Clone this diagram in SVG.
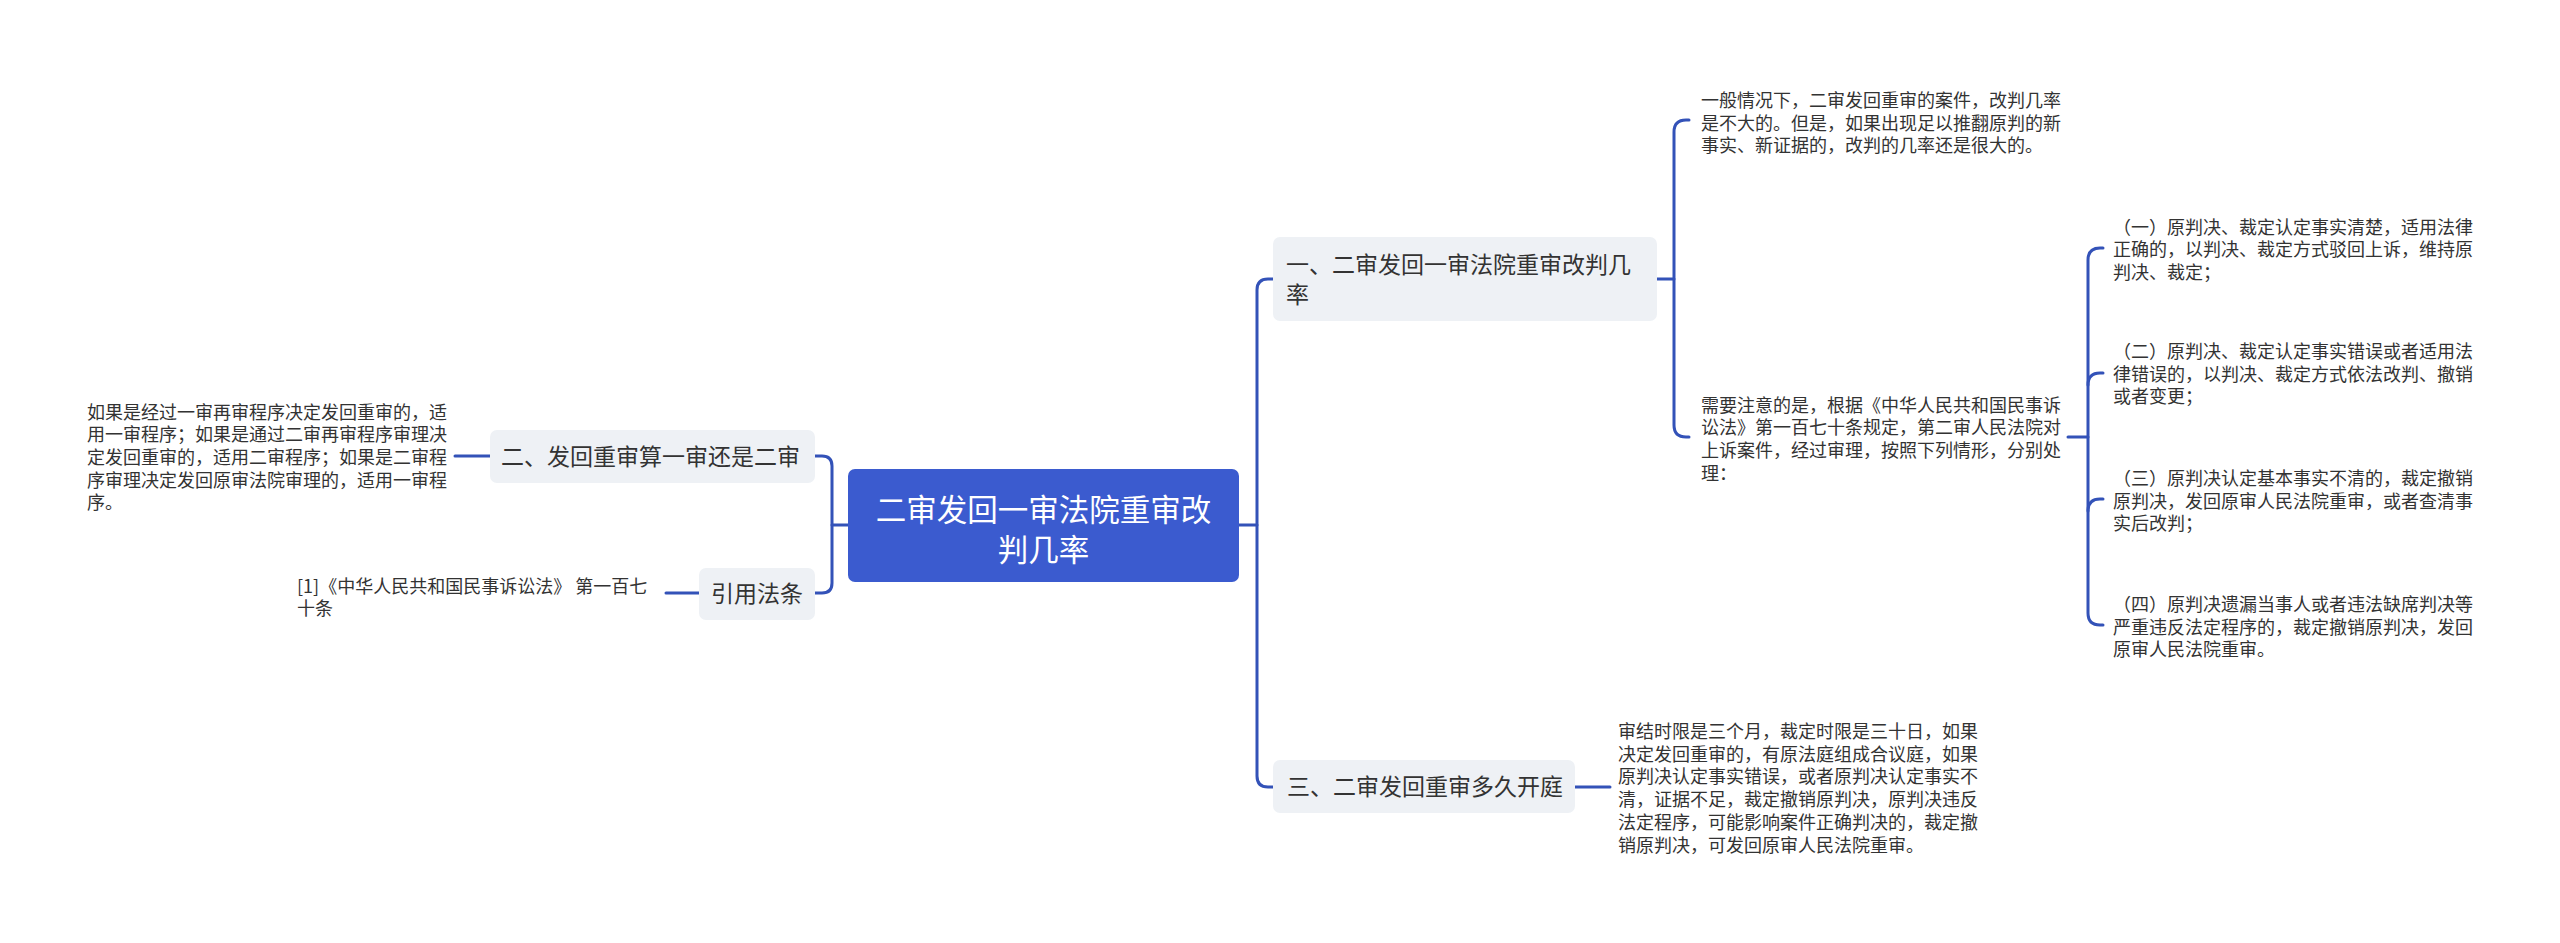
<svg xmlns="http://www.w3.org/2000/svg" width="2560" height="943" viewBox="0 0 2560 943">
<style>
.bg{fill:#ffffff}
.ln{fill:none;stroke:#3352b8;stroke-width:3;stroke-linecap:round}
.root{fill:#3b5bcf}
.nd{fill:#eef1f5}
text{font-family:"Noto Sans CJK SC","Noto Sans",sans-serif;fill:#333333}
.rt{font-size:30.5px;fill:#ffffff;text-anchor:middle}
.nt{font-size:23px}
.tx{font-size:18px}
</style>
<rect class="bg" x="0" y="0" width="2560" height="943"/>
<g id="connectors">
<path class="ln" d="M848,525 H832"/>
<path class="ln" d="M815,456 H822 Q832,456 832,466 V583 Q832,593 822,593 H815"/>
<path class="ln" d="M490,456 H455"/>
<path class="ln" d="M699,593 H666"/>
<path class="ln" d="M1239,525 H1257"/>
<path class="ln" d="M1273,279 H1268 Q1257,279 1257,290 V776 Q1257,787 1268,787 H1273"/>
<path class="ln" d="M1657,279 H1674"/>
<path class="ln" d="M1689,120 H1686 Q1674,120 1674,132 V425 Q1674,437 1686,437 H1689"/>
<path class="ln" d="M2068,437 H2088"/>
<path class="ln" d="M2103,248 H2100 Q2088,248 2088,260 V613 Q2088,625 2100,625 H2103"/>
<path class="ln" d="M2088,385 Q2088,373 2100,373 H2103"/>
<path class="ln" d="M2088,511 Q2088,499 2100,499 H2103"/>
<path class="ln" d="M1575,787 H1610"/>
</g>
<g id="root">
<rect class="root" x="848" y="469" width="391" height="113" rx="7"/>
<text class="rt" x="1043.5" y="520.5">二审发回一审法院重审改</text>
<text class="rt" x="1043.5" y="561">判几率</text>
</g>
<g id="n1">
<rect class="nd" x="1273" y="237" width="384" height="84" rx="7"/>
<text class="nt" x="1286" y="273">一、二审发回一审法院重审改判几</text>
<text class="nt" x="1286" y="303">率</text>
</g>
<g id="n1a">
<text class="tx" x="1701" y="107">一般情况下，二审发回重审的案件，改判几率</text>
<text class="tx" x="1701" y="129.5">是不大的。但是，如果出现足以推翻原判的新</text>
<text class="tx" x="1701" y="152">事实、新证据的，改判的几率还是很大的。</text>
</g>
<g id="n1b">
<text class="tx" x="1701" y="411.5">需要注意的是，根据《中华人民共和国民事诉</text>
<text class="tx" x="1701" y="434.2">讼法》第一百七十条规定，第二审人民法院对</text>
<text class="tx" x="1701" y="456.9">上诉案件，经过审理，按照下列情形，分别处</text>
<text class="tx" x="1701" y="479.6">理：</text>
</g>
<g id="i1">
<text class="tx" x="2113" y="233.5">（一）原判决、裁定认定事实清楚，适用法律</text>
<text class="tx" x="2113" y="256.2">正确的，以判决、裁定方式驳回上诉，维持原</text>
<text class="tx" x="2113" y="278.9">判决、裁定；</text>
</g>
<g id="i2">
<text class="tx" x="2113" y="358">（二）原判决、裁定认定事实错误或者适用法</text>
<text class="tx" x="2113" y="380.7">律错误的，以判决、裁定方式依法改判、撤销</text>
<text class="tx" x="2113" y="403.4">或者变更；</text>
</g>
<g id="i3">
<text class="tx" x="2113" y="485">（三）原判决认定基本事实不清的，裁定撤销</text>
<text class="tx" x="2113" y="507.7">原判决，发回原审人民法院重审，或者查清事</text>
<text class="tx" x="2113" y="530.4">实后改判；</text>
</g>
<g id="i4">
<text class="tx" x="2113" y="611">（四）原判决遗漏当事人或者违法缺席判决等</text>
<text class="tx" x="2113" y="633.7">严重违反法定程序的，裁定撤销原判决，发回</text>
<text class="tx" x="2113" y="656.4">原审人民法院重审。</text>
</g>
<g id="n3">
<rect class="nd" x="1273" y="760" width="302" height="53" rx="7"/>
<text class="nt" x="1287" y="795">三、二审发回重审多久开庭</text>
</g>
<g id="n3a">
<text class="tx" x="1618" y="738">审结时限是三个月，裁定时限是三十日，如果</text>
<text class="tx" x="1618" y="760.7">决定发回重审的，有原法庭组成合议庭，如果</text>
<text class="tx" x="1618" y="783.4">原判决认定事实错误，或者原判决认定事实不</text>
<text class="tx" x="1618" y="806.1">清，证据不足，裁定撤销原判决，原判决违反</text>
<text class="tx" x="1618" y="828.8">法定程序，可能影响案件正确判决的，裁定撤</text>
<text class="tx" x="1618" y="851.5">销原判决，可发回原审人民法院重审。</text>
</g>
<g id="n2">
<rect class="nd" x="490" y="430" width="325" height="53" rx="7"/>
<text class="nt" x="501" y="465">二、发回重审算一审还是二审</text>
</g>
<g id="n2a">
<text class="tx" x="87" y="418.5">如果是经过一审再审程序决定发回重审的，适</text>
<text class="tx" x="87" y="441.2">用一审程序；如果是通过二审再审程序审理决</text>
<text class="tx" x="87" y="463.9">定发回重审的，适用二审程序；如果是二审程</text>
<text class="tx" x="87" y="486.6">序审理决定发回原审法院审理的，适用一审程</text>
<text class="tx" x="87" y="509.3">序。</text>
</g>
<g id="n4">
<rect class="nd" x="699" y="568" width="116" height="52" rx="7"/>
<text class="nt" x="711" y="602">引用法条</text>
</g>
<g id="n4a">
<text class="tx" x="297" y="593">[1]《中华人民共和国民事诉讼法》 第一百七</text>
<text class="tx" x="297" y="615">十条</text>
</g>
</svg>
